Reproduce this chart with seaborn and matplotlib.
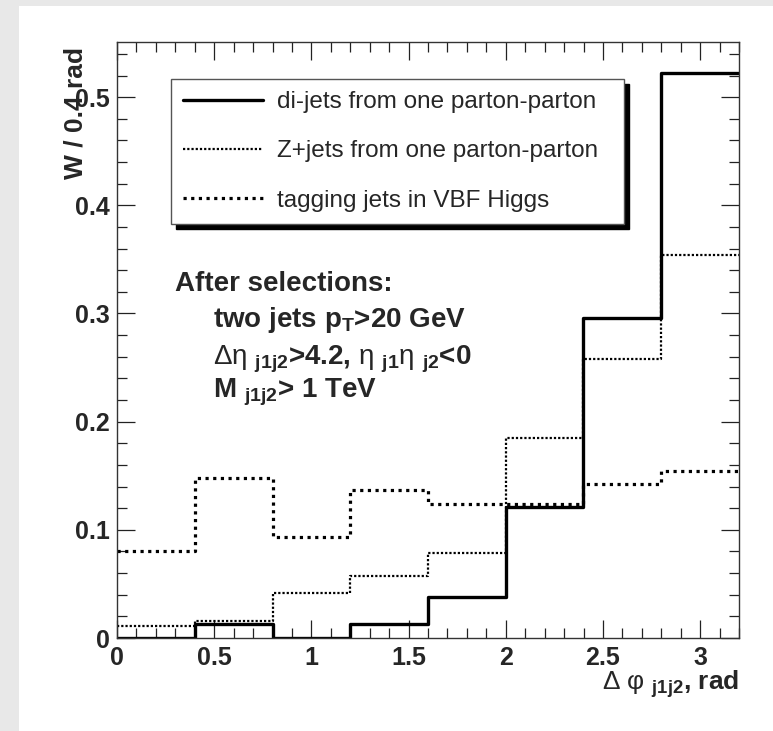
import numpy as np
import pandas as pd
import matplotlib
matplotlib.use("Agg")
import matplotlib.pyplot as plt
from matplotlib.patches import Rectangle
from matplotlib.ticker import MultipleLocator
import seaborn as sns

# Binning in delta-phi (rad)
bin_edges = [0.0, 0.4, 0.8, 1.2, 1.6, 2.0, 2.4, 2.8, 3.2]

# Normalised weight per 0.4 rad bin
dijets = [0.0, 0.013, 0.0, 0.013, 0.038, 0.121, 0.296, 0.522]
zjets = [0.011, 0.016, 0.042, 0.057, 0.079, 0.185, 0.258, 0.354]
vbf_tag = [0.080, 0.148, 0.093, 0.137, 0.124, 0.124, 0.142, 0.154]

labels = [
    "di-jets from one parton-parton",
    "Z+jets from one parton-parton",
    "tagging jets in VBF Higgs",
]

x_ticks = [0, 0.5, 1, 1.5, 2, 2.5, 3]
x_tick_labels = ["0", "0.5", "1", "1.5", "2", "2.5", "3"]
y_ticks = [0, 0.1, 0.2, 0.3, 0.4, 0.5]
y_tick_labels = ["0", "0.1", "0.2", "0.3", "0.4", "0.5"]

edges = np.array(bin_edges)
centers = 0.5 * (edges[:-1] + edges[1:])
df = pd.DataFrame({"dphi": centers, "dijets": dijets, "zjets": zjets, "vbf": vbf_tag})

sns.set_style("ticks")
plt.rcParams["font.family"] = ["Liberation Sans", "DejaVu Sans"]
plt.rcParams["mathtext.fontset"] = "custom"
plt.rcParams["mathtext.rm"] = "Liberation Sans"
plt.rcParams["mathtext.bf"] = "Liberation Sans:bold"
plt.rcParams["mathtext.it"] = "Liberation Sans:italic"
plt.rcParams["mathtext.default"] = "bf"

fig = plt.figure(figsize=(7.73, 7.31), dpi=100, facecolor="#e8e8e8")
# white canvas pad
fig.patches.append(Rectangle((19 / 773, 0), 1, 725 / 731, transform=fig.transFigure,
                             facecolor="white", edgecolor="none", zorder=-10))
ax = fig.add_axes([117 / 773, 93 / 731, 622 / 773, 596 / 731])
ax.set_facecolor("white")

styles = [
    dict(weights="dijets", linewidth=2.4, linestyle="-"),
    dict(weights="zjets", linewidth=1.6, linestyle=(0, (1, 0.9))),
    dict(weights="vbf", linewidth=2.3, linestyle=(0, (1, 1.4))),
]
for st, lab in zip(styles, labels):
    sns.histplot(data=df, x="dphi", weights=st["weights"], bins=bin_edges,
                 element="step", fill=False, color="black",
                 linewidth=st["linewidth"], linestyle=st["linestyle"],
                 label=lab, ax=ax)

ax.set_xlim(0, 3.2)
ax.set_ylim(0, 0.551)

ax.set_xticks(x_ticks)
ax.set_xticklabels(x_tick_labels)
ax.set_yticks(y_ticks)
ax.set_yticklabels(y_tick_labels)
ax.xaxis.set_minor_locator(MultipleLocator(0.1))
ax.yaxis.set_minor_locator(MultipleLocator(0.02))
ax.tick_params(which="both", direction="in", top=True, right=True,
               color="#222222", width=0.9)
ax.tick_params(which="major", length=13)
ax.tick_params(which="minor", length=7)
ax.tick_params(axis="x", which="major", pad=5.5, labelsize=18)
ax.tick_params(axis="y", which="major", pad=5, labelsize=18)
for lab in ax.get_xticklabels() + ax.get_yticklabels():
    lab.set_fontweight("bold")
for sp in ax.spines.values():
    sp.set_linewidth(1.0)
    sp.set_color("#333333")

ax.set_xlabel(r"$\mathrm{\Delta\ \varphi\ }_{\mathbf{j1j2}}$, rad",
              fontsize=19, fontweight="bold", loc="right")
ax.xaxis.set_label_coords(1.0, -0.050)
ax.set_ylabel("W / 0.4 rad", fontsize=19, fontweight="bold", loc="top")
ax.yaxis.set_label_coords(-0.047, 0.992)

leg = ax.legend(loc="upper left", bbox_to_anchor=(0.0868, 0.938, 0.728, 0),
                mode="expand", borderaxespad=0, fontsize=17.5, frameon=True,
                fancybox=False, handlelength=3.3, handletextpad=0.55,
                labelspacing=1.12, borderpad=0.5,
                shadow={"ox": 3.5, "oy": -3.5, "facecolor": "black",
                        "edgecolor": "black", "alpha": 1})
leg.get_frame().set_edgecolor("#555555")
leg.get_frame().set_linewidth(1.0)
leg.get_frame().set_alpha(1)

ax.text(0.0932, 0.582, "After selections:", transform=ax.transAxes,
        fontsize=20, fontweight="bold", va="baseline", ha="left")
ax.text(0.1543, 0.521, r"two jets p$_{\mathbf{T}}$>20 GeV", transform=ax.transAxes,
        fontsize=20, fontweight="bold", va="baseline", ha="left")
ax.text(0.1543, 0.459,
        r"$\mathrm{\Delta\eta\ }_{\mathbf{j1j2}}$>4.2, "
        r"$\mathrm{\eta\ }_{\mathbf{j1}}\mathrm{\eta\ }_{\mathbf{j2}}$<0",
        transform=ax.transAxes, fontsize=20, fontweight="bold",
        va="baseline", ha="left")
ax.text(0.1543, 0.403, r"$\mathbf{M\ }_{\mathbf{j1j2}}$> 1 TeV", transform=ax.transAxes,
        fontsize=20, fontweight="bold", va="baseline", ha="left")

fig.savefig("out.png", dpi=100, facecolor=fig.get_facecolor())
